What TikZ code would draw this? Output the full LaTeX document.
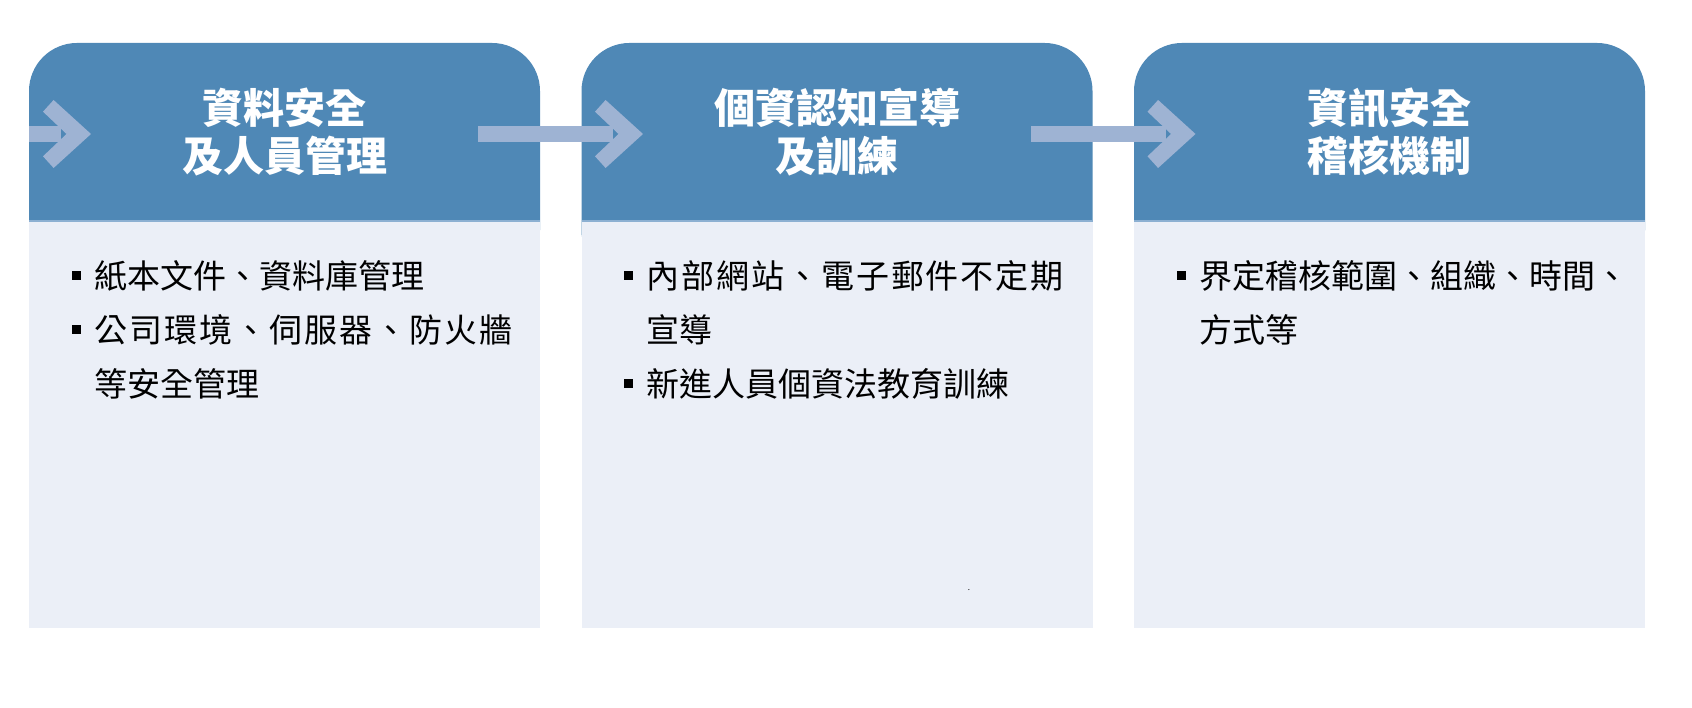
\documentclass[tikz,border=0pt]{standalone}
\usepackage{fontspec}
\setmainfont{Noto Sans CJK TC}
\definecolor{headblue}{RGB}{79,136,182}
\definecolor{bodybg}{RGB}{235,239,247}
\definecolor{arrowc}{RGB}{158,179,211}
\definecolor{edgeblue}{RGB}{140,176,210}
\tikzset{
  headfill/.style={fill=headblue},
  bodyfill/.style={fill=bodybg},
  arrowfill/.style={fill=arrowc},
  titletext/.style={text=white, font=\bfseries\fontsize{41}{49}\selectfont, inner sep=0pt, anchor=base},
  bodytext/.style={text=black, font=\fontsize{33}{40}\selectfont, inner sep=0pt, anchor=base west},
  bulletsq/.style={rectangle, fill=black, draw=none, minimum size=9pt, inner sep=0pt},
}
\newcommand\stagebox[1]{%
  \fill[headfill, rounded corners=48pt] (#1,665) rectangle ++(511,-235);
  \fill[bodyfill] (#1,487) rectangle ++(511,-407);
  \draw[edgeblue, line width=1.2pt] (#1,487) -- ++(511,0);
}
\newcommand\stagearrow[2]{%
  \fill[arrowfill] (#1,566) rectangle (#2-30,582);
  \fill[arrowfill] (#2,574) -- (#2-37.4,608) -- (#2-48,596.3) -- (#2-24.5,574)
     -- (#2-48,551.7) -- (#2-37.4,540) -- cycle;
}
\begin{document}
\begin{tikzpicture}[x=1pt,y=1pt]
\useasboundingbox (0,0) rectangle (1692,708);
% stage boxes
\stagebox{29}
\stagebox{581.5}
\stagebox{1134}
% arrows
\stagearrow{29}{91}
\stagearrow{478}{643}
\stagearrow{1030.5}{1195.5}
% titles
\node[titletext] (t1a) at (284.5,584) {資料安全};
\node[titletext] (t1b) at (284.5,536) {及人員管理};
\node[titletext] (t2a) at (837,584) {個資認知宣導};
\node[titletext] (t2b) at (837,536) {及訓練};
\node[titletext] (t3a) at (1389.5,584) {資訊安全};
\node[titletext] (t3b) at (1389.5,536) {稽核機制};
% box 1 body
\node[bulletsq] (b1a) at (76,432) {};
\node[bodytext] (l1a) at (94,419) {紙本文件、資料庫管理};
\node[bulletsq] (b1b) at (76,378) {};
\node[bodytext] (l1b) at (94,365) {\hbox to 418pt{公\hfill 司\hfill 環\hfill 境\hfill 、\hfill 伺\hfill 服\hfill 器\hfill 、\hfill 防\hfill 火\hfill 牆}};
\node[bodytext] (l1c) at (94,311) {等安全管理};
% box 2 body
\node[bulletsq] (b2a) at (628.5,432) {};
\node[bodytext] (l2a) at (646.5,419) {\hbox to 417pt{內\hfill 部\hfill 網\hfill 站\hfill 、\hfill 電\hfill 子\hfill 郵\hfill 件\hfill 不\hfill 定\hfill 期}};
\node[bodytext] (l2b) at (646.5,365) {宣導};
\node[bulletsq] (b2b) at (628.5,324) {};
\node[bodytext] (l2c) at (646.5,311) {新進人員個資法教育訓練};
\node[inner sep=0pt, font=\fontsize{8}{8}\selectfont] (dot) at (969,118) {.};
% box 3 body
\node[bulletsq] (b3a) at (1181,432) {};
\node[bodytext] (l3a) at (1199,419) {界定稽核範圍、組織、時間、};
\node[bodytext] (l3b) at (1199,365) {方式等};
\end{tikzpicture}
\end{document}
